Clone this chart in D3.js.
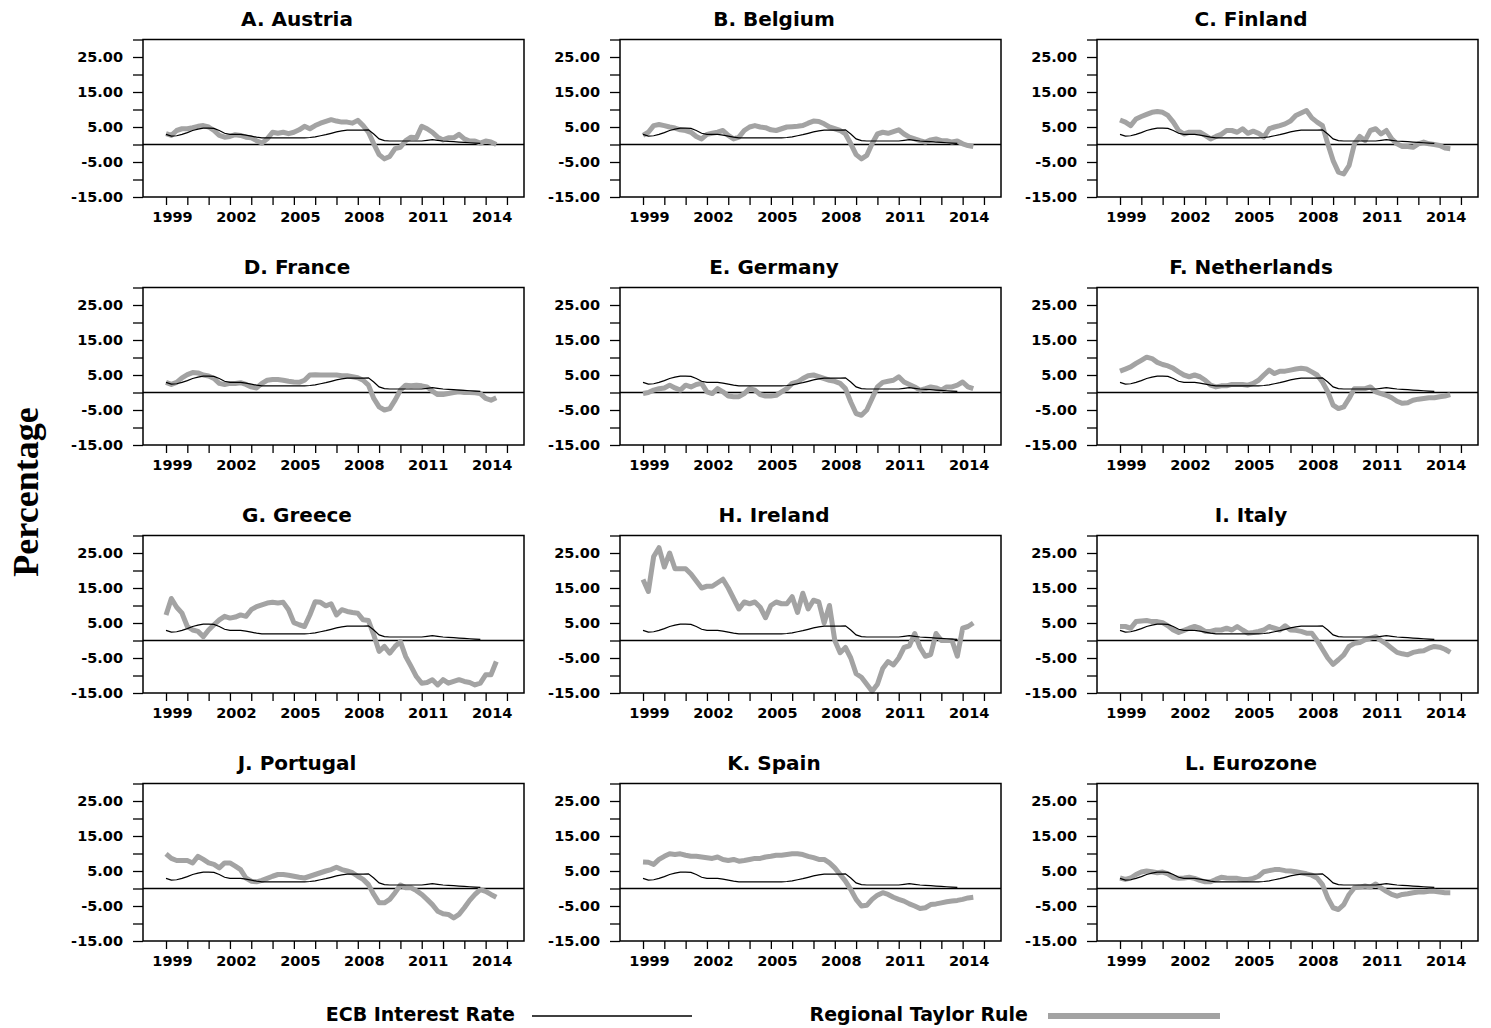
<!DOCTYPE html>
<html>
<head>
<meta charset="utf-8">
<title>ECB interest rate and regional Taylor rules</title>
<script src="https://cdnjs.cloudflare.com/ajax/libs/d3/7.8.5/d3.min.js"></script>
<style>
  body { margin: 0; background: #fff; }
  svg text { font-family: "DejaVu Sans", Verdana, sans-serif; font-weight: bold; fill: #000; }
</style>
</head>
<body>
<svg id="chart" width="1491" height="1028"></svg>
<script>
// quarterly observations, first one is 1999 Q1
var firstYear = 1999;

var titles = ["A. Austria", "B. Belgium", "C. Finland",
              "D. France", "E. Germany", "F. Netherlands",
              "G. Greece", "H. Ireland", "I. Italy",
              "J. Portugal", "K. Spain", "L. Eurozone"];

// ECB main refinancing rate (same in every panel)
var ecb = [2.9, 2.4, 2.5, 2.9, 3.4, 4.0, 4.4, 4.7, 4.7, 4.6, 4.0, 3.2,
           2.9, 2.9, 2.9, 2.7, 2.4, 2.1, 1.9, 1.9, 1.9, 1.9, 1.9, 1.9,
           1.9, 1.9, 1.9, 2.0, 2.2, 2.5, 2.8, 3.2, 3.6, 3.9, 4.1, 4.1,
           4.1, 4.1, 4.2, 3.0, 1.6, 1.1, 1.0, 1.0, 1.0, 1.0, 1.0, 1.0,
           1.0, 1.2, 1.4, 1.2, 1.0, 0.9, 0.8, 0.7, 0.6, 0.5, 0.4, 0.3];

// regional Taylor rule rates
var austria = [3.1, 2.6, 4.0, 4.5, 4.5, 4.8, 5.2, 5.4, 5.0, 4.0, 2.6, 2.1,
               2.3, 2.8, 2.6, 2.1, 1.9, 1.1, 0.4, 1.6, 3.5, 3.2, 3.5, 3.1,
               3.5, 4.2, 5.2, 4.5, 5.4, 6.1, 6.6, 7.1, 6.7, 6.4, 6.4, 6.1,
               6.9, 5.4, 3.5, 0.2, -2.9, -4.1, -3.4, -1.2, -0.8, 1.1, 2.1, 1.9,
               5.2, 4.5, 3.5, 2.1, 1.3, 1.9, 1.9, 2.9, 1.6, 1.0, 1.0, 0.4,
               1.0, 0.7, 0.0];
var belgium = [2.6, 3.5, 5.4, 5.7, 5.4, 5.0, 4.7, 4.2, 4.0, 3.5, 2.3, 1.6,
               2.9, 3.2, 3.5, 4.0, 2.6, 1.6, 2.1, 4.0, 5.0, 5.4, 5.0, 4.8,
               4.2, 4.0, 4.5, 5.0, 5.1, 5.2, 5.4, 6.1, 6.7, 6.6, 5.9, 5.0,
               4.5, 4.0, 3.0, 0.2, -2.9, -4.1, -3.1, 0.2, 3.0, 3.5, 3.2, 3.7,
               4.2, 3.0, 2.1, 1.6, 1.1, 0.7, 1.3, 1.6, 1.1, 1.1, 0.7, 1.0,
               0.2, -0.3, -0.6];
var finland = [7.0, 6.4, 5.4, 7.3, 8.0, 8.6, 9.2, 9.4, 9.2, 8.3, 6.4, 4.0,
               3.0, 3.5, 3.5, 3.5, 2.6, 1.6, 2.3, 2.9, 4.0, 4.0, 3.5, 4.5,
               3.2, 3.8, 3.2, 2.1, 4.5, 5.0, 5.4, 5.9, 6.7, 8.3, 9.0, 9.7,
               7.6, 6.4, 5.4, 0.2, -4.6, -7.9, -8.4, -6.0, 0.2, 2.3, 1.1, 4.0,
               4.5, 3.0, 4.0, 1.6, 0.2, -0.6, -0.6, -0.8, 0.2, 0.7, 0.2, 0.0,
               -0.3, -1.0, -1.2];
var france = [2.9, 2.3, 2.9, 4.2, 5.1, 5.7, 5.6, 5.0, 4.7, 4.0, 2.6, 2.3,
              2.6, 2.6, 2.8, 2.3, 1.6, 1.3, 2.6, 3.5, 3.7, 3.7, 3.5, 3.2,
              3.0, 2.9, 3.5, 5.0, 5.1, 5.0, 5.0, 5.0, 5.0, 4.8, 4.8, 4.5,
              4.2, 3.5, 2.1, -1.7, -4.1, -5.0, -4.6, -2.2, 0.7, 2.1, 1.9, 2.1,
              1.9, 1.6, 0.4, -0.6, -0.6, -0.3, 0.0, 0.2, 0.0, 0.0, -0.1, -0.3,
              -1.7, -2.2, -1.5];
var germany = [-0.3, 0.0, 0.7, 1.1, 1.3, 2.1, 1.3, 0.7, 2.1, 1.6, 2.3, 2.6,
               0.2, -0.3, 1.1, 0.2, -1.0, -1.2, -1.2, -0.3, 1.1, 0.7, -0.6, -1.0,
               -1.0, -0.8, 0.2, 1.1, 2.6, 3.0, 4.0, 4.8, 5.0, 4.5, 4.0, 3.5,
               3.2, 2.6, 1.1, -2.7, -6.0, -6.5, -5.0, -1.7, 1.6, 2.9, 3.2, 3.5,
               4.5, 3.0, 2.3, 1.6, 0.7, 1.1, 1.6, 1.3, 0.7, 1.6, 1.6, 2.1,
               3.0, 1.6, 1.1];
var netherlands = [6.1, 6.7, 7.3, 8.3, 9.2, 10.1, 9.7, 8.6, 8.0, 7.6, 6.9, 5.9,
                   5.0, 4.5, 5.0, 4.5, 3.5, 2.1, 1.6, 1.9, 1.9, 2.3, 2.3, 2.3,
                   2.1, 2.6, 3.5, 5.0, 6.4, 5.4, 6.1, 6.1, 6.4, 6.7, 6.9, 6.7,
                   5.9, 5.0, 3.0, 0.2, -3.6, -4.6, -4.1, -1.7, 1.1, 1.1, 1.1, 1.6,
                   0.2, -0.3, -0.8, -1.5, -2.5, -3.1, -2.9, -2.2, -1.9, -1.7, -1.5, -1.5,
                   -1.2, -1.0, -0.6];
var greece = [7.3, 12.0, 9.5, 7.8, 4.0, 3.0, 2.6, 1.1, 3.0, 4.5, 5.9, 6.9,
              6.4, 6.7, 7.3, 6.9, 8.8, 9.7, 10.2, 10.7, 10.9, 10.7, 10.9, 8.8,
              5.1, 4.5, 4.0, 7.3, 11.1, 10.9, 9.9, 10.5, 7.3, 8.8, 8.3, 8.0,
              7.8, 5.9, 5.7, 1.6, -3.1, -1.7, -3.6, -1.7, -0.3, -4.6, -7.4, -10.3,
              -12.2, -12.0, -11.2, -12.7, -11.2, -12.2, -11.7, -11.2, -11.7, -12.0, -12.7, -12.2,
              -9.8, -9.8, -6.0];
var ireland = [17.4, 14.0, 24.0, 26.5, 21.0, 25.0, 20.5, 20.5, 20.5, 19.0, 17.0, 15.0,
               15.5, 15.5, 16.5, 17.5, 15.0, 12.0, 9.0, 11.0, 10.5, 11.0, 9.5, 6.5,
               10.0, 11.0, 10.5, 10.5, 12.5, 8.0, 13.5, 9.0, 11.5, 11.0, 5.0, 10.0,
               0.0, -3.5, -2.0, -5.0, -9.5, -10.5, -12.5, -14.5, -12.5, -8.0, -6.0, -7.0,
               -5.0, -2.0, -1.5, 2.0, -2.0, -4.5, -4.0, 2.0, 0.0, 0.0, 0.0, -4.5,
               3.5, 4.0, 5.0];
var italy = [4.0, 4.0, 3.5, 5.4, 5.6, 5.7, 5.4, 5.4, 5.1, 4.2, 3.0, 2.3,
             2.9, 3.5, 4.0, 3.5, 2.6, 2.6, 3.0, 3.0, 3.5, 3.0, 4.0, 3.0,
             2.1, 2.3, 2.6, 3.0, 4.0, 3.5, 3.0, 4.2, 3.0, 2.9, 2.6, 2.1,
             2.1, 0.0, -2.5, -5.0, -6.8, -5.5, -4.1, -1.7, -0.8, -0.6, 0.2, 0.7,
             1.1, 0.0, -1.0, -2.2, -3.4, -3.8, -4.1, -3.4, -3.1, -2.9, -2.2, -1.7,
             -1.9, -2.5, -3.4];
var portugal = [9.9, 8.6, 8.0, 8.0, 8.0, 7.3, 9.2, 8.3, 7.3, 6.9, 5.9, 7.3,
                7.3, 6.4, 5.4, 3.0, 2.1, 1.9, 2.3, 2.9, 3.5, 4.0, 4.0, 3.8,
                3.5, 3.2, 3.0, 3.5, 4.0, 4.5, 5.0, 5.4, 6.1, 5.4, 5.0, 4.5,
                3.5, 2.6, 1.1, -1.7, -4.1, -4.1, -3.1, -1.2, 1.0, 0.2, 0.2, -0.6,
                -1.7, -3.1, -4.6, -6.5, -7.2, -7.4, -8.4, -7.4, -5.5, -3.4, -1.7, -0.3,
                -0.8, -1.7, -2.5];
var spain = [7.6, 7.5, 6.9, 8.3, 9.2, 9.9, 9.7, 9.9, 9.5, 9.2, 9.2, 9.0,
             8.8, 8.6, 9.0, 8.3, 8.0, 8.3, 7.8, 8.0, 8.3, 8.6, 8.6, 9.0,
             9.2, 9.5, 9.5, 9.7, 9.9, 9.9, 9.7, 9.2, 8.8, 8.3, 8.3, 7.3,
             5.9, 4.0, 2.1, -0.3, -3.1, -5.0, -4.8, -3.1, -1.9, -1.2, -1.7, -2.5,
             -3.1, -3.6, -4.4, -5.0, -5.7, -5.5, -4.6, -4.4, -4.1, -3.8, -3.6, -3.4,
             -3.1, -2.7, -2.5];
var eurozone = [3.0, 2.6, 3.0, 4.0, 4.7, 5.0, 4.8, 4.5, 4.7, 4.2, 3.2, 2.9,
                3.0, 3.2, 2.9, 2.3, 1.9, 1.9, 2.6, 3.2, 3.0, 2.9, 2.9, 2.6,
                2.6, 2.9, 3.5, 4.8, 5.1, 5.4, 5.4, 5.1, 5.0, 4.8, 4.5, 4.2,
                3.8, 3.0, 1.1, -2.7, -5.5, -6.0, -4.6, -1.7, 0.2, 0.4, 0.7, 0.4,
                1.3, 0.2, -0.8, -1.7, -2.2, -1.7, -1.5, -1.2, -1.0, -1.0, -0.8, -0.8,
                -1.0, -1.2, -1.2];

var taylor = [austria, belgium, finland, france, germany, netherlands,
              greece, ireland, italy, portugal, spain, eurozone];

var yTicks = [-15, -10, -5, 0, 5, 10, 15, 20, 25, 30];
var yLabelled = [-15, -5, 5, 15, 25];
var yearTicks = d3.range(1999, 2016);
var yearLabelled = [1999, 2002, 2005, 2008, 2011, 2014];

var legendNames = ["ECB Interest Rate", "Regional Taylor Rule"];

var grey = "#a3a3a3";
var svg = d3.select("#chart");

var frameW = 381, frameH = 157.5;

function toSeries(vals) {
    return vals.map(function (v, i) { return { t: firstYear + i / 4, v: v }; });
}

titles.forEach(function (title, k) {
    var col = k % 3, row = Math.floor(k / 3);
    var left = 143 + col * 477, top = 39.5 + row * 248;

    var x = d3.scaleLinear().domain([1997.92, 2015.8]).range([0, frameW]);
    var y = d3.scaleLinear().domain([-15, 30]).range([frameH, 0]);

    var g = svg.append("g").attr("transform", "translate(" + left + "," + top + ")");

    g.append("text")
        .attr("x", 154).attr("y", -14)
        .attr("text-anchor", "middle")
        .style("font-size", "20px")
        .text(title);

    // zero line
    g.append("line")
        .attr("x1", 0).attr("x2", frameW)
        .attr("y1", y(0)).attr("y2", y(0))
        .attr("stroke", "#000").attr("stroke-width", 1.3);

    var line = d3.line().x(function (d) { return x(d.t); }).y(function (d) { return y(d.v); });

    g.append("path")
        .datum(toSeries(taylor[k]))
        .attr("d", line)
        .attr("fill", "none")
        .attr("stroke", grey)
        .attr("stroke-width", 5)
        .attr("stroke-linejoin", "round");

    g.append("path")
        .datum(toSeries(ecb))
        .attr("d", line)
        .attr("fill", "none")
        .attr("stroke", "#000")
        .attr("stroke-width", 1.2);

    var yAxis = d3.axisLeft(y)
        .tickValues(yTicks)
        .tickSize(10)
        .tickPadding(10)
        .tickFormat(function (d) { return yLabelled.indexOf(d) >= 0 ? d.toFixed(2) : ""; });
    var ya = g.append("g").call(yAxis);
    ya.select(".domain").remove();
    ya.selectAll("line").attr("stroke", "#000").attr("stroke-width", 1.3);
    ya.selectAll("text").style("font-size", "14.5px").attr("font-family", null);

    var xAxis = d3.axisBottom(x)
        .tickValues(yearTicks)
        .tickSize(8)
        .tickPadding(7)
        .tickFormat(function (d) { return yearLabelled.indexOf(d) >= 0 ? d : ""; });
    var xa = g.append("g").attr("transform", "translate(0," + frameH + ")").call(xAxis);
    xa.select(".domain").remove();
    xa.selectAll("line").attr("stroke", "#000").attr("stroke-width", 1.3);
    xa.selectAll("text").attr("dx", 6).style("font-size", "14.5px").attr("font-family", null);

    g.append("rect")
        .attr("width", frameW).attr("height", frameH)
        .attr("fill", "none").attr("stroke", "#000").attr("stroke-width", 1.5);
});

svg.append("text")
    .attr("transform", "translate(38,492) rotate(-90)")
    .attr("text-anchor", "middle")
    .style("font-family", "'Liberation Serif', 'Times New Roman', serif")
    .style("font-size", "36px")
    .text("Percentage");

// legend
var legend = svg.append("g");
legend.append("text").attr("x", 515).attr("y", 1021).attr("text-anchor", "end")
    .style("font-size", "19px").text(legendNames[0]);
legend.append("line").attr("x1", 532).attr("x2", 692).attr("y1", 1016).attr("y2", 1016)
    .attr("stroke", "#000").attr("stroke-width", 1.5);
legend.append("text").attr("x", 1028).attr("y", 1021).attr("text-anchor", "end")
    .style("font-size", "19px").text(legendNames[1]);
legend.append("line").attr("x1", 1048).attr("x2", 1220).attr("y1", 1016).attr("y2", 1016)
    .attr("stroke", grey).attr("stroke-width", 6);
</script>
</body>
</html>
